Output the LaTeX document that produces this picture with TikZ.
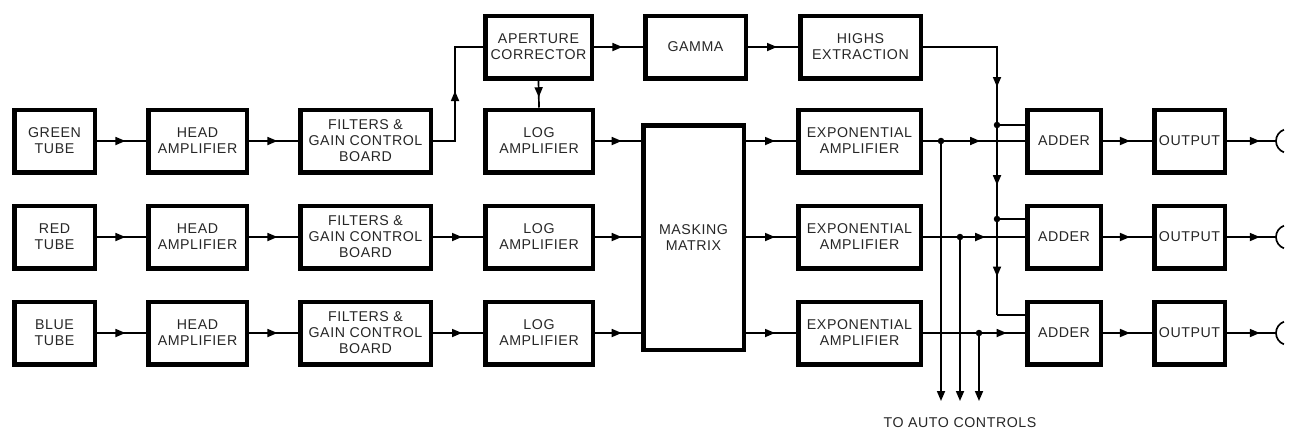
\documentclass[tikz,border=0pt]{standalone}
\usepackage{fontspec}
\setmainfont{Liberation Sans}[LetterSpace=4]
\usepackage{tikz}
\usetikzlibrary{arrows.meta,decorations.markings}

\begin{document}
\begin{tikzpicture}[x=1pt,y=-1pt,
    blk/.style={draw, line width=4.5pt, align=center, inner sep=0pt,
        minimum height=62.5, text=black!85,
        font=\fontsize{14.2}{16}\selectfont},
    wire/.style={line width=1.7pt},
    flow/.style={wire, decoration={markings,
        mark=at position #1 with {\arrow{Triangle[length=10pt,width=8pt]}}},
        postaction={decorate}},
    flow/.default=0.58,
    tip/.style={wire, -{Triangle[length=10pt,width=8pt]}},
    jdot/.style={circle, fill, inner sep=0pt, minimum size=6.5pt}]

    \useasboundingbox (0,0) rectangle (1293,432);

    % Tubes
    \node[blk, minimum width=80.5] (green) at (54.5,141) {GREEN\\TUBE};
    \node[blk, minimum width=80.5] (red)   at (54.5,237) {RED\\TUBE};
    \node[blk, minimum width=80.5] (blue)  at (54.5,333) {BLUE\\TUBE};

    % Head amplifiers
    \node[blk, minimum width=98.5] (head1) at (197.5,141) {HEAD\\AMPLIFIER};
    \node[blk, minimum width=98.5] (head2) at (197.5,237) {HEAD\\AMPLIFIER};
    \node[blk, minimum width=98.5] (head3) at (197.5,333) {HEAD\\AMPLIFIER};

    % Filter boards
    \node[blk, minimum width=130.5] (filt1) at (365.5,141) {FILTERS \&\\GAIN CONTROL\\BOARD};
    \node[blk, minimum width=130.5] (filt2) at (365.5,237) {FILTERS \&\\GAIN CONTROL\\BOARD};
    \node[blk, minimum width=130.5] (filt3) at (365.5,333) {FILTERS \&\\GAIN CONTROL\\BOARD};

    % Log amplifiers
    \node[blk, minimum width=107.5] (log1) at (539,141) {LOG\\AMPLIFIER};
    \node[blk, minimum width=107.5] (log2) at (539,237) {LOG\\AMPLIFIER};
    \node[blk, minimum width=107.5] (log3) at (539,333) {LOG\\AMPLIFIER};

    % Detail channel
    \node[blk, minimum width=106.5] (aper)  at (538.5,47) {APERTURE\\CORRECTOR};
    \node[blk, minimum width=100.5] (gamma) at (695.5,47) {GAMMA};
    \node[blk, minimum width=120.5] (highs) at (860.5,47) {HIGHS\\EXTRACTION};

    % Matrix
    \node[blk, minimum width=100.5, minimum height=224.5] (matrix) at (693.5,237.5) {MASKING\\MATRIX};

    % Exponential amplifiers
    \node[blk, minimum width=122.5] (exp1) at (859.5,141) {EXPONENTIAL\\AMPLIFIER};
    \node[blk, minimum width=122.5] (exp2) at (859.5,237) {EXPONENTIAL\\AMPLIFIER};
    \node[blk, minimum width=122.5] (exp3) at (859.5,333) {EXPONENTIAL\\AMPLIFIER};

    % Adders
    \node[blk, minimum width=73.5] (add1) at (1064,141) {ADDER};
    \node[blk, minimum width=73.5] (add2) at (1064,237) {ADDER};
    \node[blk, minimum width=73.5] (add3) at (1064,333) {ADDER};

    % Outputs
    \node[blk, minimum width=70.5] (out1) at (1189.5,141) {OUTPUT};
    \node[blk, minimum width=70.5] (out2) at (1189.5,237) {OUTPUT};
    \node[blk, minimum width=70.5] (out3) at (1189.5,333) {OUTPUT};

    % Front end
    \draw[flow] (green.east) -- (head1.west);
    \draw[flow] (red.east)   -- (head2.west);
    \draw[flow] (blue.east)  -- (head3.west);
    \draw[flow] (head1.east) -- (filt1.west);
    \draw[flow] (head2.east) -- (filt2.west);
    \draw[flow] (head3.east) -- (filt3.west);
    \draw[flow] (filt2.east) -- (log2.west);
    \draw[flow] (filt3.east) -- (log3.west);

    % Green to aperture corrector
    \coordinate (up) at (455,141);
    \draw[flow=0.5] (filt1.east) -- (up) |- (aper.west);
    \draw[flow=0.62] (aper.south) -- (log1.north);
    \draw[flow] (aper.east) -- (gamma.west);
    \draw[flow] (gamma.east) -- (highs.west);

    % Into and out of the matrix
    \draw[flow] (log1.east) -- (log1.east -| matrix.west);
    \draw[flow] (log2.east) -- (log2.east -| matrix.west);
    \draw[flow] (log3.east) -- (log3.east -| matrix.west);
    \draw[flow] (exp1.west -| matrix.east) -- (exp1.west);
    \draw[flow] (exp2.west -| matrix.east) -- (exp2.west);
    \draw[flow] (exp3.west -| matrix.east) -- (exp3.west);

    % Exponential amplifiers to adders
    \draw[flow=0.56] (exp1.east) -- (add1.west);
    \draw[flow=0.61] (exp2.east) -- (add2.west);
    \draw[flow=0.82] (exp3.east) -- (add3.west);

    % Highs bus
    \coordinate (busA) at (997,125);
    \coordinate (busB) at (997,219);
    \coordinate (busC) at (997,315);
    \draw[flow=0.75] (highs.east) -| (busA);
    \draw[flow=0.64] (busA) -- (busB);
    \draw[flow=0.6] (busB) -- (busC);
    \draw[wire] (busC) -- (busC -| add3.west);
    \draw[wire] (busA) -- (busA -| add1.west);
    \draw[wire] (busB) -- (busB -| add2.west);
    \node[jdot] (dA) at (busA) {};
    \node[jdot] (dB) at (busB) {};

    % Taps to auto controls
    \node[text=black!85] (auto) at (960,423) {\fontsize{14.2}{16}\selectfont TO AUTO CONTROLS};
    \coordinate (ctl) at (960,401);
    \node[jdot] (tap1) at (941,141) {};
    \node[jdot] (tap2) at (960,237) {};
    \node[jdot] (tap3) at (979,333) {};
    \draw[tip] (tap1.center) -- (tap1 |- ctl);
    \draw[tip] (tap2.center) -- (tap2 |- ctl);
    \draw[tip] (tap3.center) -- (tap3 |- ctl);

    % Adders to outputs
    \draw[flow=0.55] (add1.east) -- (out1.west);
    \draw[flow=0.55] (add2.east) -- (out2.west);
    \draw[flow=0.55] (add3.east) -- (out3.west);

    % Output jacks
    \coordinate (jack1) at (1276,141);
    \coordinate (jack2) at (1276,237);
    \coordinate (jack3) at (1276,333);
    \draw[flow=0.67] (out1.east) -- (jack1);
    \draw[flow=0.67] (out2.east) -- (jack2);
    \draw[flow=0.67] (out3.east) -- (jack3);
    \draw[wire] (jack1) arc[start angle=180,end angle=110,radius=12]
                (jack1) arc[start angle=180,end angle=250,radius=12];
    \draw[wire] (jack2) arc[start angle=180,end angle=110,radius=12]
                (jack2) arc[start angle=180,end angle=250,radius=12];
    \draw[wire] (jack3) arc[start angle=180,end angle=110,radius=12]
                (jack3) arc[start angle=180,end angle=250,radius=12];

\end{tikzpicture}
\end{document}
